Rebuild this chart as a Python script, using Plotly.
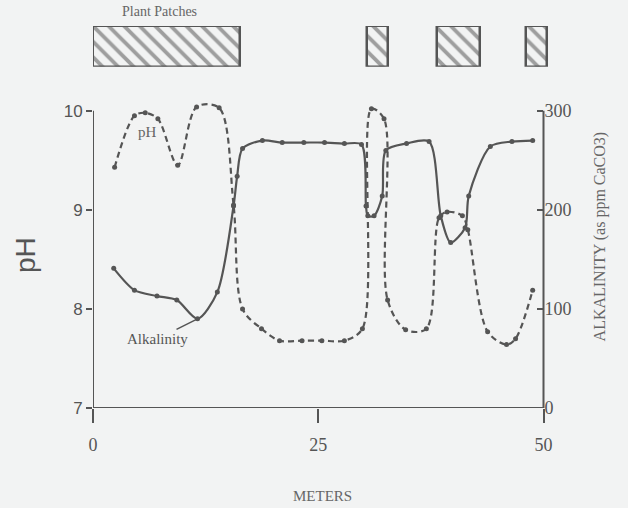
import plotly.graph_objects as go

# pH profile (dashed)
ph_x = [2.4, 4.6, 5.8, 7.2, 9.4, 11.5, 14.0, 15.6, 16.6, 18.7, 20.7, 23.2, 25.4, 27.9, 29.9,
        30.9, 32.3, 32.7, 34.7, 37.0, 38.4, 39.3, 41.0, 41.6, 43.8, 45.9, 46.9, 48.8]
ph_y = [9.43, 9.95, 9.98, 9.92, 9.45, 10.04, 10.03, 9.05, 8.0, 7.8, 7.68, 7.68, 7.68, 7.68, 7.8,
        10.02, 9.92, 8.09, 7.79, 7.8, 8.92, 8.98, 8.94, 8.8, 7.77, 7.64, 7.7, 8.19]

# Alkalinity profile (solid), ppm CaCO3
alk_x = [2.3, 4.6, 7.1, 9.3, 11.6, 13.8, 15.6, 16.0, 16.6, 18.8, 21.0, 23.4, 25.7, 27.9, 29.8,
         30.3, 30.5, 31.2, 32.1, 32.5, 34.8, 37.3, 38.6, 39.7, 41.3, 41.7, 44.1, 46.5, 48.8]
alk_y = [141, 119, 113, 109, 90, 117, 204, 234, 262, 270, 268, 268, 268, 267, 266,
         204, 194, 194, 214, 260, 267, 269, 194, 167, 182, 214, 264, 269, 270]

# Plant patches (start, end) in meters
patch_start = [0.0, 30.4, 38.2, 48.1]
patch_end = [16.3, 32.7, 42.9, 50.4]

x_ticks = [0, 25, 50]
ph_ticks = [7, 8, 9, 10]
alk_ticks = [0, 100, 200, 300]

INK = "#555555"
BG = "#f2f3f3"
SERIF = "Liberation Serif, Times New Roman, serif"
SANS = "Liberation Sans, Arial, sans-serif"

fig = go.Figure()

# plant patches as hatched bars on a separate strip axis
fig.add_trace(go.Bar(
    x=[(s + e) / 2 for s, e in zip(patch_start, patch_end)],
    y=[1] * len(patch_start),
    width=[e - s for s, e in zip(patch_start, patch_end)],
    xaxis="x", yaxis="y3",
    marker=dict(color=BG, line=dict(color=INK, width=2.5),
                pattern=dict(shape="\\", fgcolor="#4a4a4a", bgcolor=BG, size=11, solidity=0.35)),
    showlegend=False, hoverinfo="skip",
))

fig.add_trace(go.Scatter(
    x=ph_x, y=ph_y, mode="lines+markers", yaxis="y",
    line=dict(color=INK, width=2.2, dash="6px,4px", shape="spline", smoothing=0.9),
    marker=dict(color=INK, size=5), showlegend=False,
))
fig.add_trace(go.Scatter(
    x=alk_x, y=alk_y, mode="lines+markers", yaxis="y2",
    line=dict(color=INK, width=2.2, shape="spline", smoothing=0.8),
    marker=dict(color=INK, size=5), showlegend=False,
))

XMAX = 50.5
main_top = 0.809

# axis lines
shapes = [
    dict(type="line", xref="x", yref="y", x0=0, x1=0, y0=7, y1=10, line=dict(color=INK, width=2)),
    dict(type="line", xref="x", yref="y", x0=50, x1=50, y0=7, y1=10, line=dict(color=INK, width=2)),
    dict(type="line", xref="x", yref="y", x0=0, x1=50, y0=7, y1=7, line=dict(color=INK, width=2)),
]

annotations = [
    dict(text="Plant Patches", xref="paper", yref="paper", x=0.147, y=1.037, xanchor="center",
         yanchor="middle", showarrow=False, font=dict(family=SERIF, size=14, color="#666666")),
    dict(text="pH", xref="x", yref="y", x=6.1, y=9.79, showarrow=False,
         font=dict(family=SERIF, size=15, color="#666666")),
    dict(text="Alkalinity", xref="x", yref="y2", x=11.6, y=90, ax=-40, ay=20,
         showarrow=True, arrowhead=0, arrowwidth=1.5, arrowcolor=INK, standoff=0,
         font=dict(family=SERIF, size=15, color="#555555")),
    dict(text="pH", xref="paper", yref="paper", x=-0.15, y=0.4, textangle=-90,
         xanchor="center", yanchor="middle", showarrow=False,
         font=dict(family=SANS, size=28, color="#555555")),
    dict(text="ALKALINITY (as ppm CaCO3)", xref="paper", yref="paper", x=1.115, y=0.45,
         textangle=-90, xanchor="center", yanchor="middle", showarrow=False,
         font=dict(family=SERIF, size=16, color="#666666")),
    dict(text="METERS", xref="paper", yref="paper", x=0.505, y=-0.23, xanchor="center",
         yanchor="middle", showarrow=False,
         font=dict(family=SERIF, size=15, color="#666666")),
]

fig.update_layout(
    width=628, height=508,
    margin=dict(l=93, r=80, t=26, b=100, autoexpand=False),
    paper_bgcolor=BG, plot_bgcolor=BG,
    bargap=0,
    xaxis=dict(range=[0, XMAX], tickvals=x_ticks, ticks="outside", ticklen=14, tickwidth=2,
               tickcolor=INK, showgrid=False, zeroline=False, showline=False,
               ticklabelstandoff=6,
               tickfont=dict(family=SERIF, size=18, color="#555555"), anchor="y"),
    yaxis=dict(range=[7, 10.12], domain=[0, main_top], tickvals=ph_ticks, ticks="outside",
               ticklen=6, tickwidth=2, tickcolor=INK, showgrid=False, zeroline=False,
               showline=False, tickfont=dict(family=SANS, size=17, color="#555555")),
    yaxis2=dict(range=[0, 312], overlaying="y", side="right", anchor="free",
                position=50 / XMAX, tickvals=alk_ticks, ticks="inside",
                ticklen=6, tickwidth=2, tickcolor=INK, showgrid=False, zeroline=False,
                showline=False, tickfont=dict(family=SERIF, size=18, color="#555555")),
    yaxis3=dict(range=[0, 1], domain=[0.893, 1.0], visible=False, anchor="x"),
    shapes=shapes,
    annotations=annotations,
)

fig.write_html("out.html", config={"displayModeBar": False},
               post_script="document.body.style.margin='0';document.body.style.background='%s';" % BG)
